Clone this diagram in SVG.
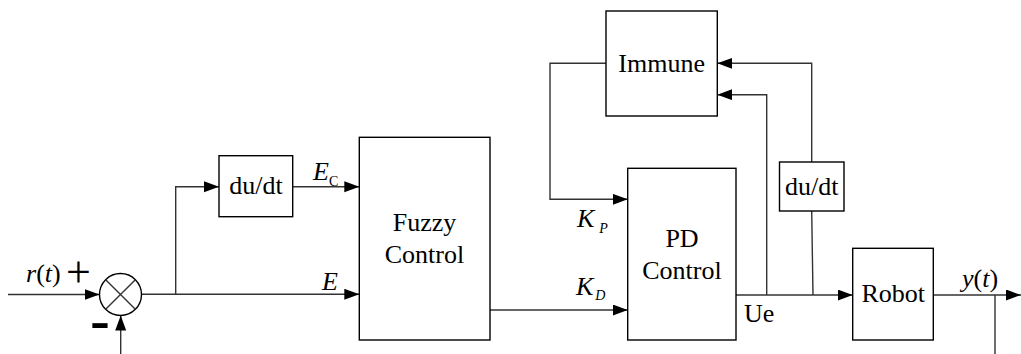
<svg xmlns="http://www.w3.org/2000/svg" width="1021" height="354" viewBox="0 0 1021 354">
  <style>
    .box { fill: #fff; stroke: #000; stroke-width: 1.4; }
    .wire { fill: none; stroke: #333; stroke-width: 1.4; }
    text { font-family: "Liberation Serif", "Times New Roman", "DejaVu Serif", serif; fill: #000; }
    .lbl { font-size: 26px; }
    .it { font-style: italic; }
    .sub { font-size: 14px; }
  </style>
  <defs>
    <marker id="arrow" markerUnits="userSpaceOnUse" markerWidth="16" markerHeight="12" refX="15" refY="5.5" orient="auto">
      <path d="M0,0 L15,5.5 L0,11 z" fill="#000"/>
    </marker>
  </defs>
  <rect width="1021" height="354" fill="#fff"/>

  <g id="connectors">
    <path class="wire" d="M8,294.5 H99.5" marker-end="url(#arrow)"/>
    <path class="wire" d="M120.7,354 V315.5" marker-end="url(#arrow)"/>
    <path class="wire" d="M141.5,294.3 H359.3" marker-end="url(#arrow)"/>
    <path class="wire" d="M175.7,294.3 V186.7 H219" marker-end="url(#arrow)"/>
    <path class="wire" d="M292.7,186.7 H359.3" marker-end="url(#arrow)"/>
    <path class="wire" d="M490,310 H627.7" marker-end="url(#arrow)"/>
    <path class="wire" d="M606,63.3 H550 V199.3 H627.7" marker-end="url(#arrow)"/>
    <path class="wire" d="M736,295 H852.7" marker-end="url(#arrow)"/>
    <path class="wire" d="M766.7,295 V94.7 H717.3" marker-end="url(#arrow)"/>
    <path class="wire" d="M813,295 L811.7,211"/>
    <path class="wire" d="M811.7,162 V63.3 H717.3" marker-end="url(#arrow)"/>
    <path class="wire" d="M933.3,295 H1021" marker-end="url(#arrow)"/>
    <path class="wire" d="M995,295 V354"/>
  </g>

  <g id="sum">
    <circle class="box" cx="120.5" cy="294.5" r="21"/>
    <path class="wire" d="M105.7,279.7 L135.3,309.3 M135.3,279.7 L105.7,309.3"/>
    <text x="78.5" y="287" text-anchor="middle" font-size="44">+</text>
    <text transform="translate(100,336) scale(1.5,1)" text-anchor="middle" font-weight="bold" font-size="40" style="font-family: 'Liberation Sans', Arial, sans-serif">-</text>
  </g>

  <g id="input-label">
    <text class="lbl" x="26" y="282"><tspan class="it">r</tspan>(<tspan class="it">t</tspan>)</text>
  </g>

  <g id="derivative-error">
    <rect class="box" x="219" y="155.7" width="73.7" height="61"/>
    <text class="lbl" x="256" y="194" text-anchor="middle">du/dt</text>
  </g>

  <g id="error-labels">
    <text class="lbl it" x="313" y="180">E<tspan class="sub" font-style="normal" dy="6">C</tspan></text>
    <text class="lbl it" x="322" y="290">E</text>
  </g>

  <g id="fuzzy-control">
    <rect class="box" x="359.3" y="137.3" width="130.7" height="202.7"/>
    <text class="lbl" x="424.5" y="231" text-anchor="middle">Fuzzy</text>
    <text class="lbl" x="424.5" y="263" text-anchor="middle">Control</text>
  </g>

  <g id="gain-labels">
    <text class="lbl it" x="577" y="227">K<tspan class="sub" dx="5" dy="6">P</tspan></text>
    <text class="lbl it" x="576" y="295">K<tspan class="sub" dx="2" dy="5">D</tspan></text>
  </g>

  <g id="immune">
    <rect class="box" x="606" y="11" width="111.3" height="105"/>
    <text class="lbl" x="661.7" y="72" text-anchor="middle">Immune</text>
  </g>

  <g id="pd-control">
    <rect class="box" x="627.7" y="168.3" width="108.3" height="171.7"/>
    <text class="lbl" x="682" y="247" text-anchor="middle">PD</text>
    <text class="lbl" x="682" y="278.5" text-anchor="middle">Control</text>
  </g>

  <g id="ue-label">
    <text class="lbl" x="744" y="322">Ue</text>
  </g>

  <g id="derivative-control">
    <rect class="box" x="779.5" y="162" width="64.5" height="49"/>
    <text class="lbl" x="811.7" y="195" text-anchor="middle">du/dt</text>
  </g>

  <g id="robot">
    <rect class="box" x="852.7" y="248.3" width="80.6" height="91.7"/>
    <text class="lbl" x="893.3" y="302" text-anchor="middle">Robot</text>
  </g>

  <g id="output-label">
    <text class="lbl" x="962" y="287"><tspan class="it">y</tspan>(<tspan class="it">t</tspan>)</text>
  </g>
</svg>
